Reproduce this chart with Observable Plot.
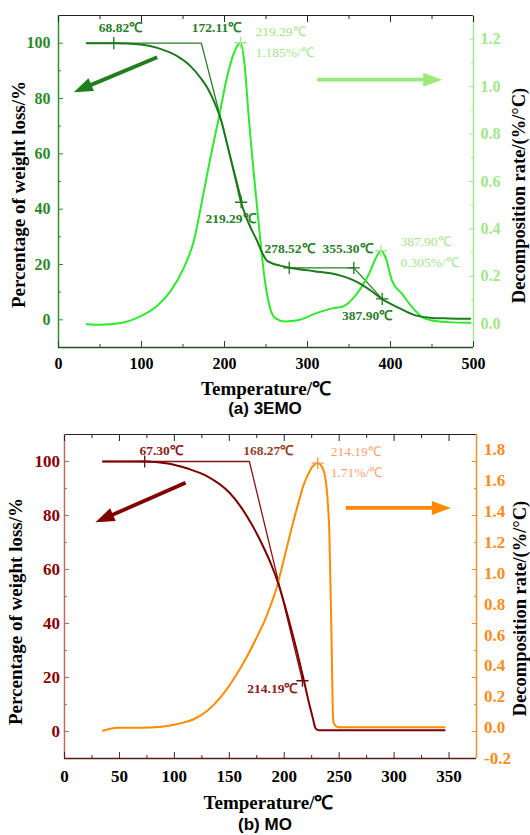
<!DOCTYPE html>
<html>
<head>
<meta charset="utf-8">
<script src="https://cdn.jsdelivr.net/npm/d3@7"></script>
<script src="https://cdn.jsdelivr.net/npm/@observablehq/plot@0.6"></script>
<style>
html, body { margin: 0; padding: 0; background: #fff; }
#wrap { width: 530px; }
#wrap svg { display: block; }
.cap { width: 530px; height: 22px; line-height: 22px; text-align: center;
       font-family: 'Liberation Sans', Arial, sans-serif; font-weight: bold; font-size: 17px; color: #000; }
</style>
</head>
<body>
<div id="wrap"></div>
<script>
// ---------------- Panel (a) 3EMO ----------------
const xDomainA = [0, 500];
const yDomainA = [-10, 110];          // weight loss, %
const rDomainA = [-0.1, 1.3];         // decomposition rate, %/℃
const xTicksA = [0, 100, 200, 300, 400, 500];
const xMinorA = [50, 150, 250, 350, 450];
const yTicksA = [0, 20, 40, 60, 80, 100];
const yMinorA = [10, 30, 50, 70, 90];
const rTicksA = [0.0, 0.2, 0.4, 0.6, 0.8, 1.0, 1.2];
const rMinorA = [0.1, 0.3, 0.5, 0.7, 0.9, 1.1];

const weightTempA = [34, 67, 99, 119, 143, 159, 171, 180, 188, 196, 205, 213, 220, 229, 239, 245, 250, 256, 267, 278.5, 308, 336, 350, 360, 376, 390, 408, 430, 450, 470, 496];
const weightA     = [100, 100, 99.5, 98.3, 95.3, 91.7, 87.5, 83.5, 78.5, 72, 61.2, 51.3, 42.5, 35, 28.7, 24.5, 21.8, 20.6, 19.6, 18.8, 17.6, 16.3, 15, 13.6, 10.6, 7.5, 4.6, 1.6, 0.7, 0.5, 0.4];

const dtgTempA = [34, 50, 75, 99, 119, 135, 151, 163, 173, 183, 193, 203, 211, 219.3, 224, 229, 233, 237, 241, 245, 248, 251, 255, 261, 273, 290, 310, 330, 342, 358, 374, 384, 388.5, 394, 402, 414, 426, 438, 450, 470, 496];
const dtgA     = [-0.002, -0.004, 0.003, 0.032, 0.076, 0.138, 0.236, 0.349, 0.52, 0.7, 0.866, 1.04, 1.138, 1.185, 1.1, 0.88, 0.72, 0.572, 0.43, 0.29, 0.2, 0.13, 0.065, 0.024, 0.01, 0.016, 0.044, 0.065, 0.072, 0.12, 0.21, 0.288, 0.308, 0.28, 0.18, 0.126, 0.07, 0.028, 0.014, 0.007, 0.004];

const tangentTempA1 = [34, 172.11, 221.3];
const tangentA1     = [100, 100, 42.5];
const tangentTempA2 = [278, 355.8, 391];
const tangentA2     = [18.8, 18.8, 7.2];

const markTempA = [66.6, 220, 278, 355.8, 390];
const markA     = [100, 42.5, 18.8, 18.8, 7.6];
const peakTempA = [219.3, 388.5];
const peakA     = [1.185, 0.308];

const darkLabelsA  = ["68.82℃", "172.11℃", "219.29℃", "278.52℃", "355.30℃", "387.90℃"];
const darkLabelTA  = [74.7, 190.4, 207.2, 278.3, 348.2, 371.9];
const darkLabelWA  = [105.7, 105.7, 36.5, 25.7, 25.7, 1.6];
const lightLabelsA = ["219.29℃", "1.185%/℃", "387.90℃", "0.305%/℃"];
const lightLabelTA = [237.3, 237.3, 412, 412];
const lightLabelWA = [104, 96.7, 28.1, 20.8];

// arrows (start T, start W, end T, end W)
const arrowLeftA  = [118.9, 94.9, 18.4, 82.3];
const arrowRightA = [311.7, 86.8, 462.3, 86.8];

// ---------------- Panel (b) MO ----------------
const xDomainB = [0, 375];
const yDomainB = [-10, 110];
const rDomainB = [-0.2, 1.9];
const xTicksB = [0, 50, 100, 150, 200, 250, 300, 350];
const xMinorB = [25, 75, 125, 175, 225, 275, 325];
const yTicksB = [0, 20, 40, 60, 80, 100];
const yMinorB = [10, 30, 50, 70, 90];
const rTicksB = [-0.2, 0.0, 0.2, 0.4, 0.6, 0.8, 1.0, 1.2, 1.4, 1.6, 1.8];

const weightTempB = [35, 72, 94, 112, 130, 150, 160, 170, 176, 182, 188, 194, 200, 206, 212, 217, 222, 226, 228.5, 231, 346];
const weightB     = [100, 100, 99.3, 97.4, 94.5, 88.5, 83.5, 77, 72.5, 67.5, 62, 55.5, 47.5, 38.5, 29, 20.5, 11.5, 5, 1.2, 0.5, 0.5];

const dtgTempB = [35, 48, 70, 88, 103, 118, 130, 142, 154, 166, 176, 182, 188, 194, 200, 207, 213, 218, 222, 226, 230.5, 234, 236.5, 238.5, 240, 241, 242, 243, 243.7, 244.3, 245, 247, 250, 346];
const dtgB     = [-0.02, 0, 0, 0.006, 0.024, 0.056, 0.11, 0.196, 0.315, 0.46, 0.6, 0.69, 0.8, 0.93, 1.1, 1.3, 1.46, 1.58, 1.645, 1.695, 1.715, 1.695, 1.65, 1.56, 1.42, 1.28, 0.95, 0.6, 0.3, 0.09, 0.03, 0.01, 0.003, 0.003];

const tangentTempB = [35, 168.27, 216.6];
const tangentB     = [100, 100, 18.8];

const markTempB = [73, 216.6];
const markB     = [100, 18.8];
const peakTempB = [230.5];
const peakB     = [1.715];

const darkLabelsB  = ["67.30℃", "214.19℃"];
const darkLabelTB  = [87.9, 189.2];
const darkLabelWB  = [104.1, 15.7];
const cornerLabelB = ["168.27℃"];
const cornerLabelTB = [185.4];
const cornerLabelWB = [104.1];
const lightLabelsB = ["214.19℃", "1.71%/℃"];
const lightLabelTB = [242.3, 242.3];
const lightLabelWB = [103.8, 96.0];

const arrowLeftB  = [110.2, 92.1, 28.2, 77.5];
const arrowRightB = [256, 82.8, 351.7, 82.8];

// ---------------- Text ----------------
const yTitle = "Percentage of weight loss/%";
const rTitle = "Decomposition rate/(%/°C)";
const xTitle = "Temperature/℃";
const captionA = "(a) 3EMO";
const captionB = "(b) MO";

// ---------------- Helpers ----------------
const serif = "'Liberation Serif','Times New Roman',Times,serif";
const zip2 = (T, V, key) => T.map((t, i) => ({T: t, [key]: V[i]}));
const labels = (txt, T, W) => txt.map((s, i) => ({text: s, T: T[i], W: W[i]}));
const fmtR = r => (Math.round(r * 10) / 10).toFixed(1);
const headSymbol = { draw(ctx) { ctx.moveTo(0, 0); ctx.lineTo(-7, 19); ctx.lineTo(7, 19); ctx.closePath(); } };

function arrowMarks(a, color, angle) {
  const d = [{x1: a[0], y1: a[1], x2: a[2], y2: a[3]}];
  return [
    Plot.arrow(d, {x1: "x1", y1: "y1", x2: "x2", y2: "y2", stroke: color, strokeWidth: 3.8, headLength: 0, insetEnd: 13, strokeLinecap: "butt"}),
    Plot.dot(d, {x: "x2", y: "y2", symbol: headSymbol, r: 5, fill: color, stroke: "none", rotate: angle})
  ];
}

function panel(o) {
  const toW = d3.scaleLinear(o.rDomain, o.yDomain);
  const rightAxis = o.rightTicksMirrored
    ? [
        Plot.axisY({anchor: "right", ticks: o.rTicks.map(toW), tickSize: 0, tickPadding: o.rPad, tickFormat: w => fmtR(toW.invert(w)), fill: o.rColor, fontSize: o.fs, fontWeight: "bold", label: null}),
        Plot.axisY({anchor: "right", ticks: o.yTicks, tickSize: -5, tickFormat: () => "", stroke: o.rLine, label: null}),
        Plot.axisY({anchor: "right", ticks: o.yMinor, tickSize: -3, tickFormat: () => "", stroke: o.rLine, label: null})
      ]
    : [
        Plot.axisY({anchor: "right", ticks: o.rTicks.map(toW), tickSize: -5, tickPadding: o.rPad, tickFormat: w => fmtR(toW.invert(w)), fill: o.rColor, stroke: o.rLine, fontSize: o.fs, fontWeight: "bold", label: null}),
        Plot.axisY({anchor: "right", ticks: o.rMinor.map(toW), tickSize: -3, tickFormat: () => "", stroke: o.rLine, label: null})
      ];
  return Plot.plot({
    width: 530, height: o.height,
    marginTop: o.mt, marginBottom: o.mb, marginLeft: o.ml, marginRight: o.mr,
    style: {fontFamily: serif, background: "#fff", overflow: "visible"},
    x: {domain: o.xDomain},
    y: {domain: o.yDomain},
    marks: [
      // frame
      Plot.ruleY([o.yDomain[1]], {stroke: "#222", strokeWidth: 1.2}),
      Plot.ruleY([o.yDomain[0]], {stroke: o.bottomLine, strokeWidth: 1.5}),
      Plot.ruleX([o.xDomain[0]], {stroke: o.leftLine, strokeWidth: 1.5}),
      Plot.ruleX([o.xDomain[1]], {stroke: o.rLine, strokeWidth: 1.5}),
      // x axes
      Plot.axisX({anchor: "bottom", ticks: o.xTicks, tickSize: -6, tickPadding: o.xPad, tickFormat: d => String(d), fill: "#000", stroke: o.bottomLine, fontSize: o.fs, fontWeight: "bold", label: null}),
      Plot.axisX({anchor: "bottom", ticks: o.xMinor, tickSize: -3, tickFormat: () => "", stroke: o.bottomLine, label: null}),
      Plot.axisX({anchor: "top", ticks: o.xTicks, tickSize: -6, tickFormat: () => "", stroke: "#222", label: null}),
      Plot.axisX({anchor: "top", ticks: o.xMinor, tickSize: -3, tickFormat: () => "", stroke: "#222", label: null}),
      // left axis
      Plot.axisY({anchor: "left", ticks: o.yTicks, tickSize: -5, tickPadding: o.yPad, tickFormat: d => String(d), fill: o.yColor, stroke: o.leftLine, fontSize: o.fs, fontWeight: "bold", label: null}),
      Plot.axisY({anchor: "left", ticks: o.yMinor, tickSize: -3, tickFormat: () => "", stroke: o.leftLine, label: null}),
      ...rightAxis,
      // curves
      Plot.line(o.tangents.flatMap(t => t), {x: "T", y: "W", z: "k", stroke: o.tanColor, strokeWidth: 1.3}),
      Plot.line(o.dtg, {x: "T", y: d => toW(d.R), stroke: o.dtgColor, strokeWidth: 2, curve: "monotone-x"}),
      Plot.line(o.weight, {x: "T", y: "W", stroke: o.wColor, strokeWidth: 2, curve: "monotone-x"}),
      // markers
      Plot.dot(o.marks, {x: "T", y: "W", symbol: "plus", r: 4, stroke: o.wColor, strokeWidth: 1.3}),
      Plot.dot(o.peaks, {x: "T", y: d => toW(d.R), symbol: "plus", r: 4, stroke: o.peakColor, strokeWidth: 1.3}),
      // annotations
      ...o.textMarks,
      ...arrowMarks(o.arrowL, o.arrowLColor, o.angleL),
      ...arrowMarks(o.arrowR, o.arrowRColor, 90),
      // axis titles
      Plot.text([yTitle], {frameAnchor: "left", rotate: -90, dx: o.yTitleDx, dy: o.yTitleDy, textAnchor: "middle", lineAnchor: "middle", fontSize: 19, fontWeight: "bold", fill: "#000"}),
      Plot.text([rTitle], {frameAnchor: "right", rotate: -90, dx: o.rTitleDx, dy: o.rTitleDy, textAnchor: "middle", lineAnchor: "middle", fontSize: 18.5, fontWeight: "bold", fill: "#000"}),
      Plot.text([xTitle], {frameAnchor: "bottom", dx: o.xTitleDx, dy: o.xTitleDy, textAnchor: "middle", lineAnchor: "middle", fontSize: 19, fontWeight: "bold", fill: "#000"})
    ]
  });
}

const tanA = [
  tangentTempA1.map((t, i) => ({T: t, W: tangentA1[i], k: 1})),
  tangentTempA2.map((t, i) => ({T: t, W: tangentA2[i], k: 2}))
];
const chartA = panel({
  height: 398, mt: 15, mb: 51, ml: 58, mr: 57, fs: 16,
  xDomain: xDomainA, yDomain: yDomainA, rDomain: rDomainA,
  xTicks: xTicksA, xMinor: xMinorA, yTicks: yTicksA, yMinor: yMinorA, rTicks: rTicksA, rMinor: rMinorA,
  rightTicksMirrored: false, xPad: 16, yPad: 13, rPad: 12,
  bottomLine: "#244f24", leftLine: "#2f8f2f", yColor: "#2a8a2a", rLine: "#a6e890", rColor: "#a2e68a",
  wColor: "#1c7a1c", tanColor: "#2a7d2a", dtgColor: "#2ee82e", peakColor: "#a6e890",
  weight: zip2(weightTempA, weightA, "W"), dtg: zip2(dtgTempA, dtgA, "R"),
  tangents: tanA,
  marks: zip2(markTempA, markA, "W"), peaks: zip2(peakTempA, peakA, "R"),
  textMarks: [
    Plot.text(labels(darkLabelsA, darkLabelTA, darkLabelWA), {x: "T", y: "W", text: "text", fontSize: 13.5, fontWeight: "bold", fill: "#2a7d2a"}),
    Plot.text(labels(lightLabelsA, lightLabelTA, lightLabelWA), {x: "T", y: "W", text: "text", textAnchor: "start", fontSize: 13.5, fill: "#a2e68a"})
  ],
  arrowL: arrowLeftA, arrowLColor: "#1f7f1f", angleL: 246.8,
  arrowR: arrowRightA, arrowRColor: "#9aea7c",
  yTitleDx: -40, yTitleDy: 13, rTitleDx: 46, rTitleDy: 14, xTitleDx: 0, xTitleDy: 41
});

const tanB = [tangentTempB.map((t, i) => ({T: t, W: tangentB[i], k: 1}))];
const chartB = panel({
  height: 394, mt: 14, mb: 56, ml: 64, mr: 54, fs: 17,
  xDomain: xDomainB, yDomain: yDomainB, rDomain: rDomainB,
  xTicks: xTicksB, xMinor: xMinorB, yTicks: yTicksB, yMinor: yMinorB, rTicks: rTicksB, rMinor: [],
  rightTicksMirrored: true, xPad: 17, yPad: 9.5, rPad: 7.5,
  bottomLine: "#5a1a1a", leftLine: "#b86b6b", yColor: "#8b0000", rLine: "#f0902a", rColor: "#ff8c1a",
  wColor: "#7d0000", tanColor: "#8b1212", dtgColor: "#ff8a00", peakColor: "#ff9a50",
  weight: zip2(weightTempB, weightB, "W"), dtg: zip2(dtgTempB, dtgB, "R"),
  tangents: tanB,
  marks: zip2(markTempB, markB, "W"), peaks: zip2(peakTempB, peakB, "R"),
  textMarks: [
    Plot.text(labels(darkLabelsB, darkLabelTB, darkLabelWB), {x: "T", y: "W", text: "text", fontSize: 13.5, fontWeight: "bold", fill: "#8b1a1a"}),
    Plot.text(labels(cornerLabelB, cornerLabelTB, cornerLabelWB), {x: "T", y: "W", text: "text", fontSize: 13.5, fontWeight: "bold", fill: "#93421f"}),
    Plot.text(labels(lightLabelsB, lightLabelTB, lightLabelWB), {x: "T", y: "W", text: "text", textAnchor: "start", fontSize: 13.5, fill: "#ff9f70"})
  ],
  arrowL: arrowLeftB, arrowLColor: "#800000", angleL: 246.4,
  arrowR: arrowRightB, arrowRColor: "#ff8800",
  yTitleDx: -49, yTitleDy: 15, rTitleDx: 43.5, rTitleDy: 12, xTitleDx: -2, xTitleDy: 44
});

const wrap = document.getElementById("wrap");
wrap.appendChild(chartA);
const capA = document.createElement("div"); capA.className = "cap"; capA.textContent = captionA; wrap.appendChild(capA);
wrap.appendChild(chartB);
const capB = document.createElement("div"); capB.className = "cap"; capB.textContent = captionB; wrap.appendChild(capB);
</script>
</body>
</html>
